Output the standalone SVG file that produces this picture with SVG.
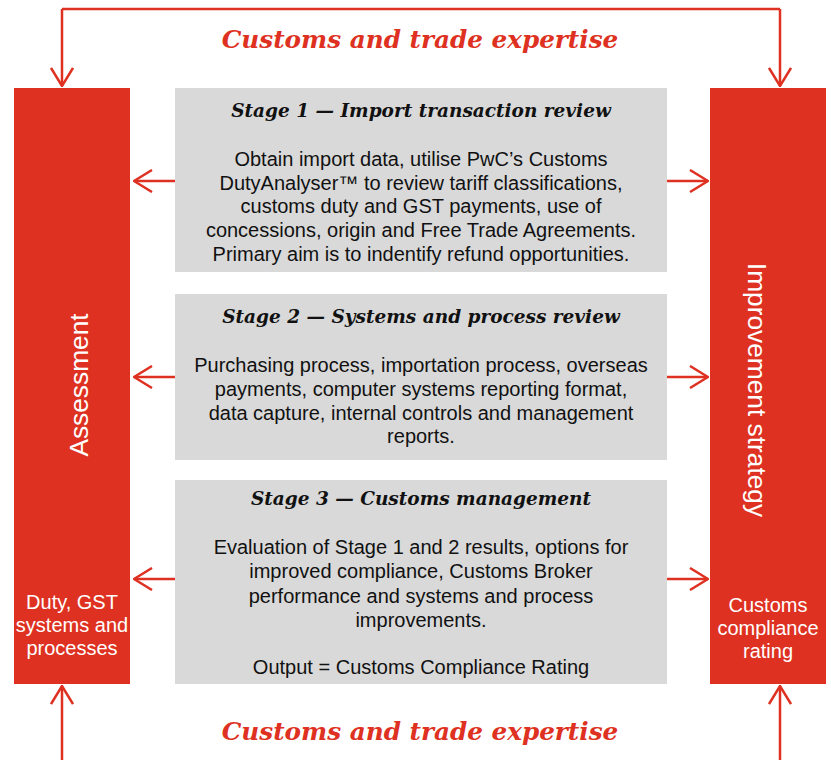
<svg xmlns="http://www.w3.org/2000/svg" width="831" height="760" viewBox="0 0 831 760">
<defs>
<style>
.bar{fill:#DE3121}
.box{fill:#D9D9D9}
.hdr{font-family:"DejaVu Serif",serif;font-weight:bold;font-style:italic;font-size:24.7px;fill:#DE3121;text-anchor:middle}
.ttl{font-family:"DejaVu Serif",serif;font-weight:bold;font-style:italic;font-size:18.5px;fill:#111;text-anchor:middle}
.body{font-family:"Liberation Sans",Arial,sans-serif;font-size:20px;fill:#111;text-anchor:middle}
.side{font-family:"Liberation Sans",Arial,sans-serif;font-size:26.3px;fill:#fff;text-anchor:middle}
.small{font-family:"Liberation Sans",Arial,sans-serif;font-size:20px;fill:#fff;text-anchor:middle}
.con{fill:none;stroke:#DE3121;stroke-width:2.5}
</style>
<marker id="ah" viewBox="0 0 20 24" refX="19" refY="12" markerWidth="20" markerHeight="24" markerUnits="userSpaceOnUse" orient="auto">
<path d="M1,1 L19,12 L1,23" fill="none" stroke="#DE3121" stroke-width="2.5"/>
</marker>
</defs>
<rect width="831" height="760" fill="#fff"/>

<text class="hdr" x="420" y="48">Customs and trade expertise</text>
<text class="hdr" x="420" y="740">Customs and trade expertise</text>

<g id="assessment">
<rect class="bar" x="14" y="88" width="116" height="596"/>
<text class="side" transform="translate(88,385) rotate(-90)">Assessment</text>
<text class="small" x="72" y="609">Duty, GST</text>
<text class="small" x="72" y="632">systems and</text>
<text class="small" x="72" y="655">processes</text>
</g>

<g id="improvement">
<rect class="bar" x="710" y="88" width="116" height="596"/>
<text class="side" transform="translate(748,390) rotate(90)">Improvement strategy</text>
<text class="small" x="768" y="612">Customs</text>
<text class="small" x="768" y="635">compliance</text>
<text class="small" x="768" y="658">rating</text>
</g>

<g id="stage1">
<rect class="box" x="175" y="88" width="492" height="184"/>
<text class="ttl" x="421" y="117">Stage 1 — Import transaction review</text>
<text class="body" x="421" y="166">Obtain import data, utilise PwC’s Customs</text>
<text class="body" x="421" y="190">DutyAnalyser™ to review tariff classifications,</text>
<text class="body" x="421" y="213">customs duty and GST payments, use of</text>
<text class="body" x="421" y="237">concessions, origin and Free Trade Agreements.</text>
<text class="body" x="421" y="261">Primary aim is to indentify refund opportunities.</text>
</g>

<g id="stage2">
<rect class="box" x="175" y="294" width="492" height="166"/>
<text class="ttl" x="421" y="323">Stage 2 — Systems and process review</text>
<text class="body" x="421" y="372">Purchasing process, importation process, overseas</text>
<text class="body" x="421" y="396">payments, computer systems reporting format,</text>
<text class="body" x="421" y="420">data capture, internal controls and management</text>
<text class="body" x="421" y="443">reports.</text>
</g>

<g id="stage3">
<rect class="box" x="175" y="480" width="492" height="204"/>
<text class="ttl" x="421" y="505">Stage 3 — Customs management</text>
<text class="body" x="421" y="554">Evaluation of Stage 1 and 2 results, options for</text>
<text class="body" x="421" y="578">improved compliance, Customs Broker</text>
<text class="body" x="421" y="603">performance and systems and process</text>
<text class="body" x="421" y="627">improvements.</text>
<text class="body" x="421" y="674">Output = Customs Compliance Rating</text>
</g>

<g id="connectors">
<path class="con" d="M62,9 H780"/>
<path class="con" d="M62,9 V86" marker-end="url(#ah)"/>
<path class="con" d="M780,9 V86" marker-end="url(#ah)"/>
<path class="con" d="M62,760 V686" marker-end="url(#ah)"/>
<path class="con" d="M780,760 V686" marker-end="url(#ah)"/>
<path class="con" d="M175,181 H134" marker-end="url(#ah)"/>
<path class="con" d="M667,181 H708" marker-end="url(#ah)"/>
<path class="con" d="M175,377 H134" marker-end="url(#ah)"/>
<path class="con" d="M667,377 H708" marker-end="url(#ah)"/>
<path class="con" d="M175,579 H134" marker-end="url(#ah)"/>
<path class="con" d="M667,579 H708" marker-end="url(#ah)"/>
</g>
</svg>
